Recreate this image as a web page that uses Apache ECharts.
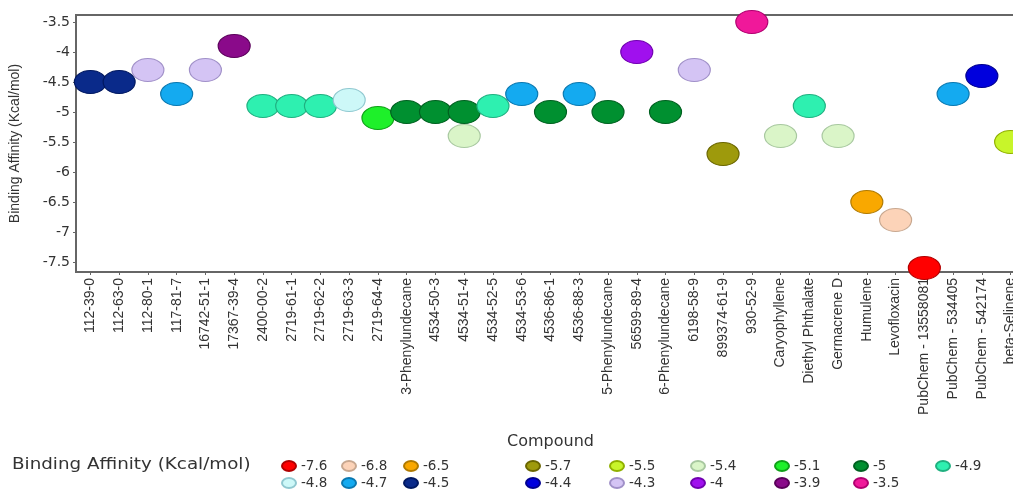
<!DOCTYPE html>
<html>
<head>
<meta charset="utf-8">
<script src="https://cdn.jsdelivr.net/npm/echarts@6/dist/echarts.min.js"></script>
<style>
html,body{margin:0;padding:0;background:#fff;overflow:hidden;width:1013px;height:495px;}
#chart{width:1040px;height:495px;}
</style>
</head>
<body>
<div id="chart"></div>
<script>
// ---- data ----
var categories = ['112-39-0','112-63-0','112-80-1','117-81-7','16742-51-1','17367-39-4','2400-00-2','2719-61-1','2719-62-2','2719-63-3','2719-64-4','3-Phenylundecane','4534-50-3','4534-51-4','4534-52-5','4534-53-6','4536-86-1','4536-88-3','5-Phenylundecane','56599-89-4','6-Phenylundecane','6198-58-9','899374-61-9','930-52-9','Caryophyllene','Diethyl Phthalate','Germacrene D','Humulene','Levofloxacin','PubChem - 13558081','PubChem - 534405','PubChem - 542174','beta-Selinene'];
var pointCompound = ['112-39-0','112-63-0','112-80-1','117-81-7','16742-51-1','17367-39-4','2400-00-2','2719-61-1','2719-62-2','2719-63-3','2719-64-4','3-Phenylundecane','4534-50-3','4534-51-4','4534-51-4','4534-52-5','4534-53-6','4536-86-1','4536-88-3','5-Phenylundecane','56599-89-4','6-Phenylundecane','6198-58-9','899374-61-9','930-52-9','Caryophyllene','Diethyl Phthalate','Germacrene D','Humulene','Levofloxacin','PubChem - 13558081','PubChem - 534405','PubChem - 542174','beta-Selinene'];
var pointAffinity = [-4.5,-4.5,-4.3,-4.7,-4.3,-3.9,-4.9,-4.9,-4.9,-4.8,-5.1,-5,-5,-5.4,-5,-4.9,-4.7,-5,-4.7,-5,-4,-5,-4.3,-5.7,-3.5,-5.4,-4.9,-5.4,-6.5,-6.8,-7.6,-4.7,-4.4,-5.5];
var levels = [-7.6,-6.8,-6.5,-5.7,-5.5,-5.4,-5.1,-5,-4.9,-4.8,-4.7,-4.5,-4.4,-4.3,-4,-3.9,-3.5];
var yTicks = [-7.5,-7,-6.5,-6,-5.5,-5,-4.5,-4,-3.5];

// ---- styles ----
var fillColors = {
  '-7.6':'#ff0000','-6.8':'#fcd3b8','-6.5':'#f9a800','-5.7':'#9e9a0c','-5.5':'#c8f52a',
  '-5.4':'#daf5c8','-5.1':'#1ef02a','-5':'#009030','-4.9':'#2ef0b0','-4.8':'#cdf8f8',
  '-4.7':'#14aaf0','-4.5':'#0a2a8a','-4.4':'#0000dd','-4.3':'#d4c4f4','-4':'#a010ee',
  '-3.9':'#8a0a8a','-3.5':'#f0189a'
};
var edgeColors = {
  '-7.6':'#b00000','-6.8':'#c8a890','-6.5':'#b07a00','-5.7':'#6a6600','-5.5':'#90b000',
  '-5.4':'#a8c8a0','-5.1':'#10a018','-5':'#006020','-4.9':'#20b080','-4.8':'#90c8d0',
  '-4.7':'#0a78b0','-4.5':'#001860','-4.4':'#000090','-4.3':'#a090c8','-4':'#7000b0',
  '-3.9':'#5a005a','-3.5':'#b00070'
};
var ellipse = 'path://M1,0A1,1 0 1,1 -1,0A1,1 0 1,1 1,0Z';
var FONT = '"Liberation Sans", Arial, sans-serif';
var WFONT = '"DejaVu Sans", Verdana, sans-serif';

var series = levels.map(function (lv) {
  var name = String(lv);
  var data = [];
  for (var i = 0; i < pointCompound.length; i++) {
    if (pointAffinity[i] === lv) data.push([pointCompound[i], pointAffinity[i]]);
  }
  return {
    name: name, type: 'scatter', data: data,
    symbol: ellipse, symbolSize: [32, 23], symbolKeepAspect: false,
    itemStyle: { color: fillColors[name], borderColor: edgeColors[name], borderWidth: 1, opacity: 1 },
    clip: false, z: 3
  };
});

// legend columns (row1: first 9 levels, row2: remaining 8)
var colLeft = [281, 341, 403, 525, 609, 690, 774, 853, 935];
var legends = colLeft.map(function (x, i) {
  var d = [{ name: String(levels[i]), icon: ellipse, symbolKeepAspect: false }];
  if (i + 9 < levels.length) d.push({ name: String(levels[i + 9]), icon: ellipse, symbolKeepAspect: false });
  return {
    data: d, orient: 'vertical', left: x, top: 459,
    itemWidth: 14, itemHeight: 10, itemGap: 3, padding: 0,
    symbolKeepAspect: false,
    textStyle: { fontFamily: WFONT, fontSize: 13.5, color: '#333' },
    selectedMode: false
  };
});

var chart = echarts.init(document.getElementById('chart'));
chart.setOption({
  animation: false,
  backgroundColor: '#fff',
  grid: { left: 75, top: 15, width: 950, bottom: 223, show: true, borderColor: '#666', borderWidth: 2, backgroundColor: 'transparent' },
  legend: legends,
  graphic: [{
    type: 'text', x: 12, y: 465, scaleX: 1.22,
    style: { text: 'Binding Affinity (Kcal/mol)', font: '15px "DejaVu Sans", Verdana, sans-serif', fill: '#333', verticalAlign: 'middle' }
  }],
  xAxis: {
    type: 'category', data: categories, boundaryGap: true,
    name: 'Compound', nameLocation: 'middle', nameGap: 162,
    nameTextStyle: { fontFamily: WFONT, fontSize: 16, color: '#333' },
    axisLine: { lineStyle: { color: '#666', width: 2 } },
    axisTick: { show: true, alignWithLabel: true, length: 3, lineStyle: { color: '#666' } },
    axisLabel: { rotate: 90, interval: 0, fontFamily: FONT, fontSize: 14, color: '#333', margin: 6 },
    splitLine: { show: false }
  },
  yAxis: {
    type: 'value', min: -7.667, max: -3.383,
    name: 'Binding Affinity (Kcal/mol)', nameLocation: 'middle', nameGap: 54, nameRotate: 90,
    nameTextStyle: { fontFamily: FONT, fontSize: 14, color: '#333' },
    axisLine: { show: true, lineStyle: { color: '#666', width: 2 } },
    axisTick: { show: true, length: 3, customValues: yTicks, lineStyle: { color: '#666' } },
    axisLabel: { customValues: yTicks, fontFamily: WFONT, fontSize: 14, color: '#333', margin: 6 },
    splitLine: { show: false }
  },
  series: series
});
</script>
</body>
</html>
